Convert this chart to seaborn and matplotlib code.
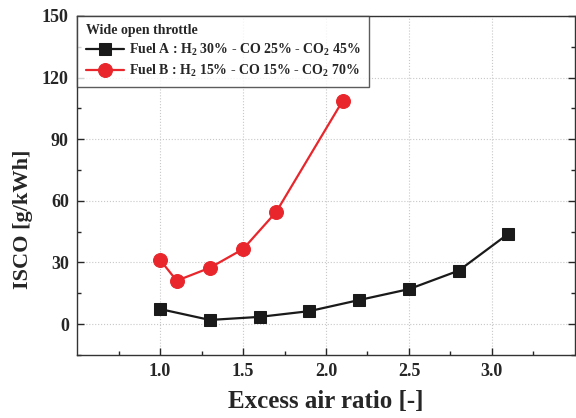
import pandas as pd
import matplotlib
matplotlib.use("Agg")
import matplotlib.pyplot as plt
import seaborn as sns

# Data
fuel_a_lambda = [1.0, 1.3, 1.6, 1.9, 2.2, 2.5, 2.8, 3.1]
fuel_a_isco = [7.3, 2.0, 3.5, 6.3, 11.7, 17.0, 26.0, 44.0]
fuel_b_lambda = [1.0, 1.1, 1.3, 1.5, 1.7, 2.1]
fuel_b_isco = [31.2, 21.1, 27.4, 36.5, 54.6, 108.6]

label_a = r"Fuel A : H$_2$ 30% - CO 25% - CO$_2$ 45%"
label_b = r"Fuel B : H$_2$ 15% - CO 15% - CO$_2$ 70%"

df_a = pd.DataFrame({"lambda": fuel_a_lambda, "isco": fuel_a_isco})
df_b = pd.DataFrame({"lambda": fuel_b_lambda, "isco": fuel_b_isco})

sns.set_style("ticks")
plt.rcParams["font.family"] = ["Liberation Serif", "DejaVu Serif"]
plt.rcParams["font.weight"] = "bold"
plt.rcParams["mathtext.fontset"] = "custom"
plt.rcParams["mathtext.rm"] = "Liberation Serif:bold"
plt.rcParams["mathtext.it"] = "Liberation Serif:bold"
plt.rcParams["mathtext.bf"] = "Liberation Serif:bold"

fig = plt.figure(figsize=(5.76, 4.18), dpi=100)
ax = fig.add_axes([0.134, 0.151, 0.864, 0.811])

sns.lineplot(data=df_a, x="lambda", y="isco", ax=ax, color="#1a1a1a", marker="s",
             markersize=8, markeredgecolor="#1a1a1a", linewidth=1.6, label=label_a)
sns.lineplot(data=df_b, x="lambda", y="isco", ax=ax, color="#e8262b", marker="o",
             markersize=10, markeredgecolor="#e8262b", linewidth=1.6, label=label_b)

ax.set_xlim(0.5, 3.5)
ax.set_ylim(-15, 150)
ax.set_xticks([1.0, 1.5, 2.0, 2.5, 3.0])
ax.set_xticks([0.75, 1.25, 1.75, 2.25, 2.75, 3.25], minor=True)
ax.set_yticks([0, 30, 60, 90, 120, 150])
ax.set_yticks([-15, 15, 45, 75, 105, 135], minor=True)
ax.tick_params(which="both", direction="in", right=True, top=False, labelsize=13)
ax.tick_params(which="major", length=5, width=1, pad=6)
ax.tick_params(which="minor", length=3, width=1)
for lab in ax.get_xticklabels() + ax.get_yticklabels():
    lab.set_fontweight("bold")

ax.grid(True, which="major", linestyle=":", color="#c8c8c8", linewidth=0.8)
for sp in ax.spines.values():
    sp.set_color("#333333")
    sp.set_linewidth(1.0)

ax.set_xlabel("Excess air ratio [-]", fontsize=18, fontweight="bold")
ax.set_ylabel("ISCO [g/kWh]", fontsize=16, fontweight="bold")
ax.xaxis.set_label_coords(0.5, -0.105)
ax.yaxis.set_label_coords(-0.088, 0.40)

leg = ax.legend(title="Wide open throttle", loc="upper left", fontsize=10,
                title_fontsize=10, frameon=True, fancybox=False,
                borderaxespad=0, handlelength=2.8, handletextpad=0.3,
                alignment="left", borderpad=0.6, labelspacing=0.35)
leg.get_title().set_fontweight("bold")
leg.get_frame().set_edgecolor("#333333")
leg.get_frame().set_linewidth(1.0)

fig.savefig("out.png", dpi=100)
